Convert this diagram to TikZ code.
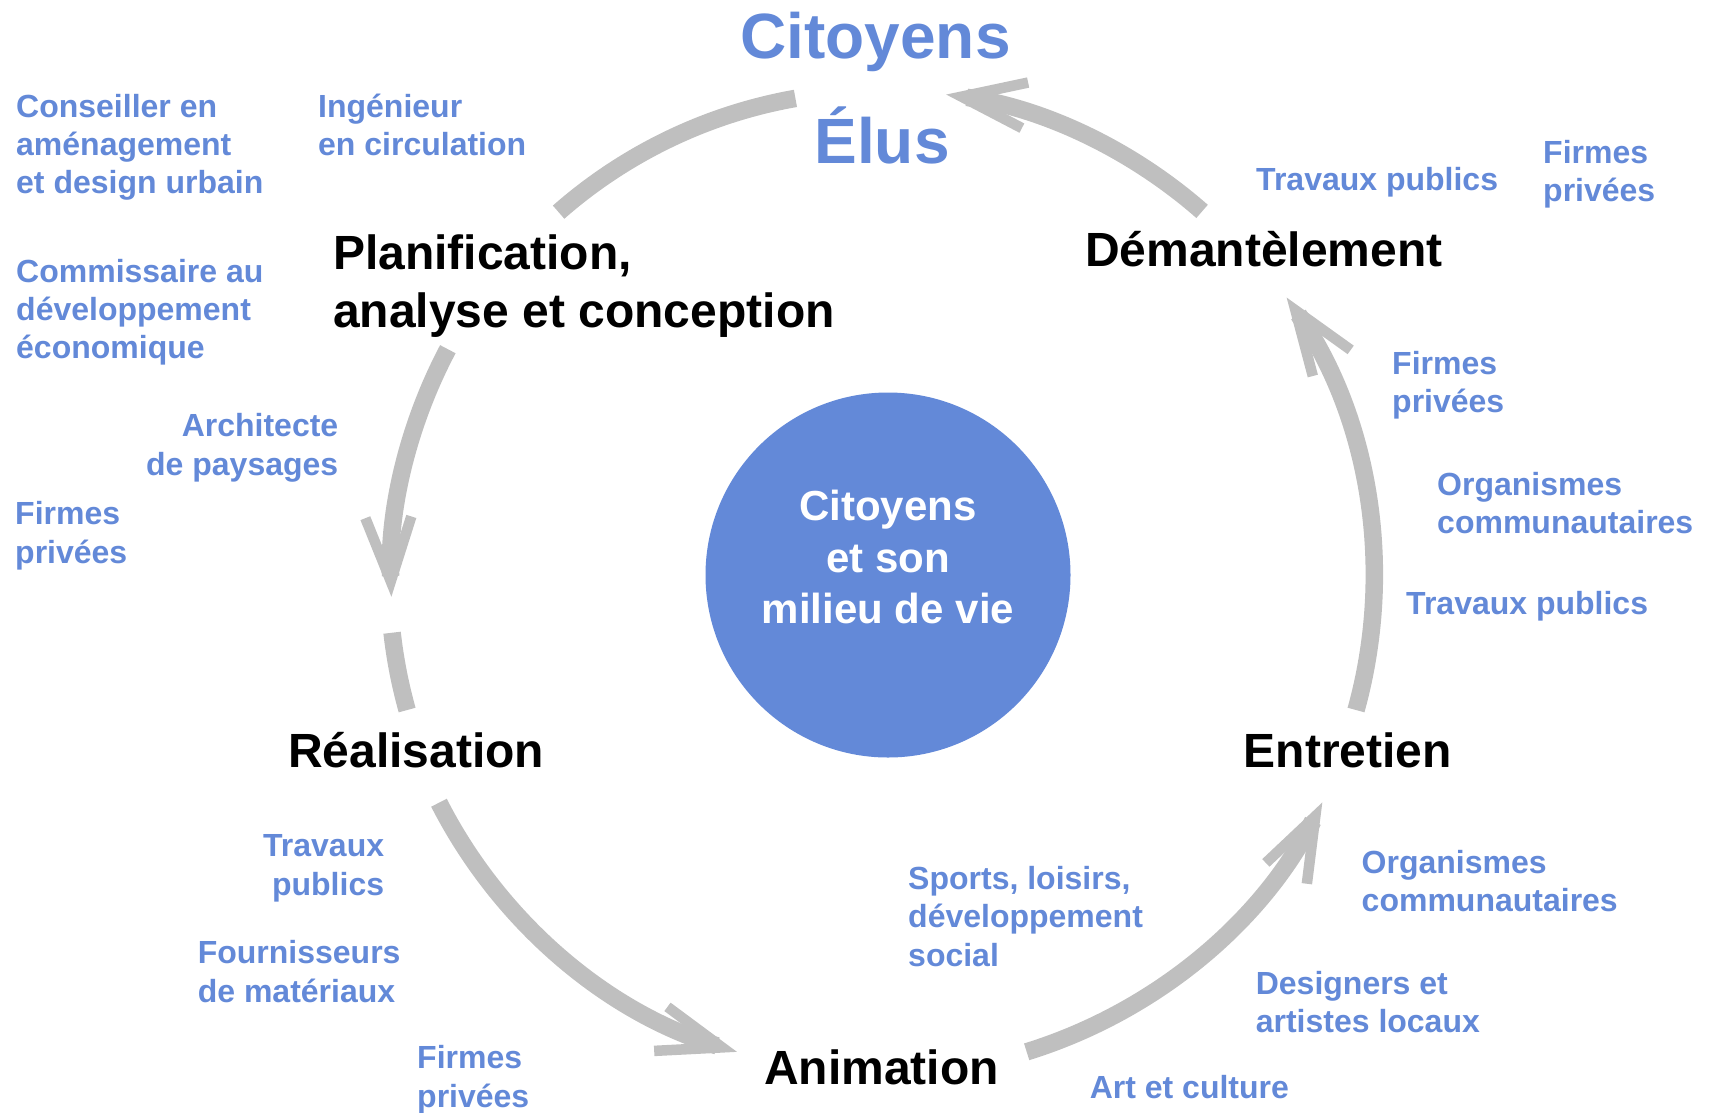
\documentclass[tikz,border=0pt]{standalone}
\usepackage{fontspec}
\setmainfont{Liberation Sans}
\usepackage{xcolor}
\usepackage{tikz}
\usetikzlibrary{arrows.meta,positioning}

\definecolor{cityblue}{RGB}{99,137,216}
\definecolor{ringgray}{RGB}{191,191,191}

\begin{document}
\begin{tikzpicture}[
    x=1pt, y=-1pt,
    actor/.style={inner sep=0pt, text=cityblue, align=left, font=\bfseries\fontsize{32}{38.3}\selectfont},
    phase/.style={inner sep=0pt, text=black, align=left, font=\bfseries\fontsize{48}{58}\selectfont},
    toptitle/.style={inner sep=0pt, anchor=base, text=cityblue, font=\bfseries\fontsize{64}{70}\selectfont},
    hub/.style={circle, fill=cityblue, minimum size=365pt, inner sep=0pt},
    ringline/.style={draw=ringgray, line width=17.5pt},
    ringarrow/.style={ringline, -{Straight Barb[length=64pt, width=46pt, line width=10.5pt]}}
]
\useasboundingbox (0,0) rectangle (1712,1112);

% centre
\node[hub] (milieu) at (888,575) {};
\node[anchor=north, inner sep=0pt, text=white, align=center,
      font=\bfseries\fontsize{42}{51.5}\selectfont] (milieutxt) at (888,490) {Citoyens\\et son\\milieu de vie};

% top
\node[toptitle] (citoyens) at (875.5,58) {Citoyens};
\node[toptitle] (elus) at (882,163) {Élus};

% phases
\node[phase, anchor=north west] (plan) at (333,235) {Planification,\\analyse et conception};
\node[phase, anchor=base west] (demant) at (1085,266.7) {Démantèlement};
\node[phase, anchor=base west] (real) at (288,767) {Réalisation};
\node[phase, anchor=base west] (entr) at (1243.6,767) {Entretien};
\node[phase, anchor=base west] (anim) at (764,1084) {Animation};

% actors
\node[actor, anchor=north west] (conseil) at (16,94) {Conseiller en\\aménagement\\et design urbain};
\node[actor, anchor=north west] (ingen) at (318,94) {Ingénieur\\en circulation};
\node[actor, anchor=north west] (commis) at (16,259) {Commissaire au\\développement\\économique};
\node[actor, anchor=north east, align=right] (archi) at (338.5,413.5) {Architecte\\de paysages};
\node[actor, anchor=north west] (firmes1) at (15,501.5) {Firmes\\privées};
\node[actor, anchor=base west] (travpub1) at (1256,190.7) {Travaux publics};
\node[actor, anchor=north west] (firmes2) at (1543,140) {Firmes\\privées};
\node[actor, anchor=north west] (firmes3) at (1392,351) {Firmes\\privées};
\node[actor, anchor=north west] (orgcom1) at (1437,472) {Organismes\\communautaires};
\node[actor, anchor=base west] (travpub2) at (1406,614.8) {Travaux publics};
\node[actor, anchor=north west] (orgcom2) at (1361.5,850) {Organismes\\communautaires};
\node[actor, anchor=north west] (design) at (1255.6,971) {Designers et\\artistes locaux};
\node[actor, anchor=base west] (artcult) at (1089.6,1098.4) {Art et culture};
\node[actor, anchor=north west] (sports) at (908,866) {Sports, loisirs,\\développement\\social};
\node[actor, anchor=north east, align=right] (travpub3) at (384.3,834.5) {Travaux\\publics};
\node[actor, anchor=north west] (fourn) at (197.6,940.5) {Fournisseurs\\de matériaux};
\node[actor, anchor=north west] (firmes4) at (417,1045.5) {Firmes\\privées};

% cycle arrows
\coordinate (ring) at (880,578);
\path (ring) ++(-48.7:488) coordinate (demant-out);
\path (ring) ++(-131.3:487) coordinate (plan-in);
\path (ring) ++(-152.1:489) coordinate (plan-out);
\path (ring) ++(-186.4:491) coordinate (real-in);
\path (ring) ++(153:495) coordinate (real-out);
\path (ring) ++(72.8:496) coordinate (anim-out);
\path (ring) ++(15.5:494) coordinate (entr-out);

\draw[ringarrow] (demant-out) arc[start angle=-48.7, end angle=-82.2, radius=488];
\draw[ringline] (plan-in) arc[start angle=-131.3, end angle=-100, radius=487];
\draw[ringarrow] (plan-out) arc[start angle=-152.1, end angle=-182.2, radius=489];
\draw[ringline] (real-in) arc[start angle=-186.4, end angle=-195.6, radius=491];
\draw[ringarrow] (real-out) arc[start angle=153, end angle=106.8, radius=495];
\draw[ringarrow] (anim-out) arc[start angle=72.8, end angle=26.9, radius=496];
\draw[ringarrow] (entr-out) arc[start angle=15.5, end angle=-34.6, radius=494];
\end{tikzpicture}
\end{document}
